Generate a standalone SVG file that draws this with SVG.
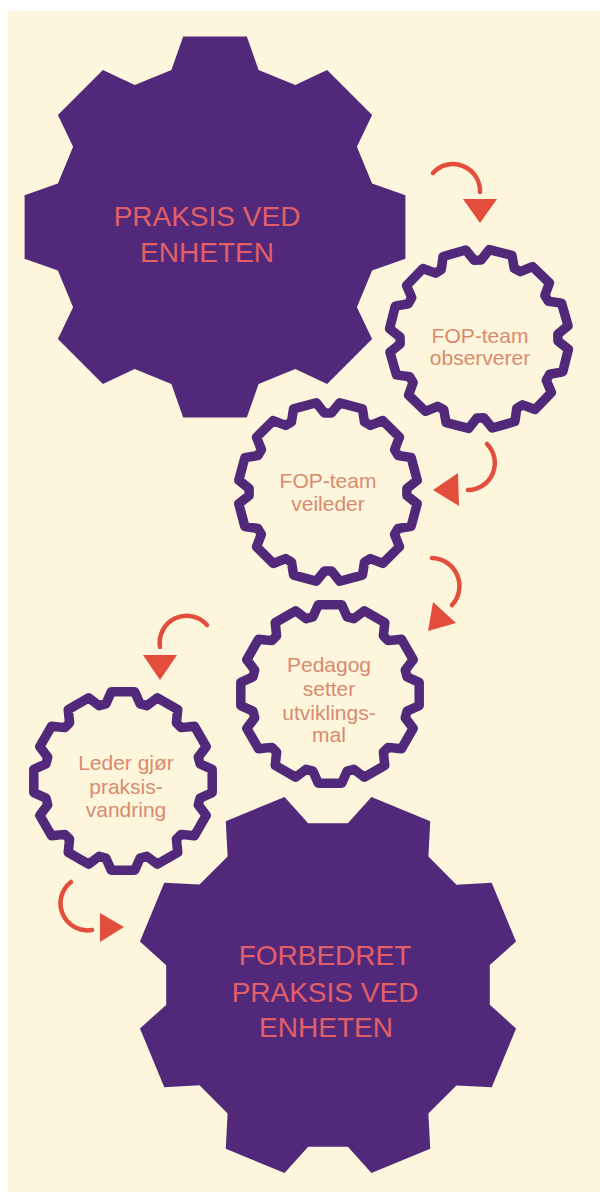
<svg xmlns="http://www.w3.org/2000/svg" xmlns:xlink="http://www.w3.org/1999/xlink" width="600" height="1192" viewBox="0 0 600 1192">
<style>
.big{fill:#52297a;}
.small{fill:#fdf6dc;stroke:#52297a;stroke-width:9.5;stroke-linejoin:round;}
.bt{font-family:"Liberation Sans",Arial,sans-serif;font-size:28px;fill:#e25f68;text-anchor:middle;}
.st{font-family:"Liberation Sans",Arial,sans-serif;font-size:21px;fill:#d98a6e;text-anchor:middle;}
.arc{fill:none;stroke:#e34e3c;stroke-width:4.5;stroke-linecap:round;}
.head{fill:#e34e3c;}
</style>
<defs>
<path id="bigGear" d="M-43.6,-157.1 L-31.8,-190.4 L31.8,-190.4 L43.6,-157.1 L80.3,-141.9 L112.1,-157.1 L157.1,-112.1 L141.9,-80.3 L157.1,-43.6 L190.4,-31.8 L190.4,31.8 L157.1,43.6 L141.9,80.3 L157.1,112.1 L112.1,157.1 L80.3,141.9 L43.6,157.1 L31.8,190.4 L-31.8,190.4 L-43.6,157.1 L-80.3,141.9 L-112.1,157.1 L-157.1,112.1 L-141.9,80.3 L-157.1,43.6 L-190.4,31.8 L-190.4,-31.8 L-157.1,-43.6 L-141.9,-80.3 L-157.1,-112.1 L-112.1,-157.1 L-80.3,-141.9 Z"/>
<path id="smallGear" d="M-17.1,-77.1 L-11.7,-89.2 L11.7,-89.2 L17.1,-77.1 L23.8,-75.3 L34.4,-83.2 L54.8,-71.4 L53.4,-58.2 L58.2,-53.4 L71.4,-54.8 L83.2,-34.4 L75.3,-23.8 L77.1,-17.1 L89.2,-11.7 L89.2,11.7 L77.1,17.1 L75.3,23.8 L83.2,34.4 L71.4,54.8 L58.2,53.4 L53.4,58.2 L54.8,71.4 L34.4,83.2 L23.8,75.3 L17.1,77.1 L11.7,89.2 L-11.7,89.2 L-17.1,77.1 L-23.8,75.3 L-34.4,83.2 L-54.8,71.4 L-53.4,58.2 L-58.2,53.4 L-71.4,54.8 L-83.2,34.4 L-75.3,23.8 L-77.1,17.1 L-89.2,11.7 L-89.2,-11.7 L-77.1,-17.1 L-75.3,-23.8 L-83.2,-34.4 L-71.4,-54.8 L-58.2,-53.4 L-53.4,-58.2 L-54.8,-71.4 L-34.4,-83.2 L-23.8,-75.3 Z"/>
</defs>
<rect x="0" y="0" width="600" height="1192" fill="#ffffff"/>
<rect x="8" y="11" width="592" height="1181" fill="#fdf6dc"/>

<g id="gear-praksis">
<use xlink:href="#bigGear" href="#bigGear" class="big" transform="translate(215,227)"/>
<text class="bt" x="207" y="226">PRAKSIS VED</text>
<text class="bt" x="207" y="262">ENHETEN</text>
</g>

<g id="gear-observerer">
<use xlink:href="#smallGear" href="#smallGear" class="small" transform="translate(479,339) rotate(14)"/>
<text class="st" x="480" y="343">FOP-team</text>
<text class="st" x="480" y="365">observerer</text>
</g>

<g id="gear-veileder">
<use xlink:href="#smallGear" href="#smallGear" class="small" transform="translate(328,492) rotate(15)"/>
<text class="st" x="328" y="488">FOP-team</text>
<text class="st" x="328" y="511">veileder</text>
</g>

<g id="gear-pedagog">
<use xlink:href="#smallGear" href="#smallGear" class="small" transform="translate(330,694)"/>
<text class="st" x="329" y="672">Pedagog</text>
<text class="st" x="329" y="696">setter</text>
<text class="st" x="329" y="720">utviklings-</text>
<text class="st" x="329" y="742">mal</text>
</g>

<g id="gear-leder">
<use xlink:href="#smallGear" href="#smallGear" class="small" transform="translate(123,781)"/>
<text class="st" x="126" y="770">Leder gjør</text>
<text class="st" x="126" y="794">praksis-</text>
<text class="st" x="126" y="817">vandring</text>
</g>

<g id="gear-forbedret">
<use xlink:href="#bigGear" href="#bigGear" class="big" transform="translate(328,985) rotate(22.5)"/>
<text class="bt" x="325" y="965">FORBEDRET</text>
<text class="bt" x="325" y="1002">PRAKSIS VED</text>
<text class="bt" x="326" y="1037">ENHETEN</text>
</g>

<g id="connectors">
<path class="arc" d="M433,173 A27,27 0 0 1 480,192"/>
<polygon class="head" points="463,199 497,199 480,223"/>
<path class="arc" d="M487,444 A27,27 0 0 1 468,490"/>
<polygon class="head" points="433,490 458,473 459,506"/>
<path class="arc" d="M432,558 A28,28 0 0 1 452,605"/>
<polygon class="head" points="433,602 456,623 428,631"/>
<path class="arc" d="M207,625 A27,27 0 0 0 160,647"/>
<polygon class="head" points="143,655 177,655 160,680"/>
<path class="arc" d="M71,882 A27,27 0 0 0 92,930"/>
<polygon class="head" points="100,913 100,942 124,927"/>
</g>
</svg>
